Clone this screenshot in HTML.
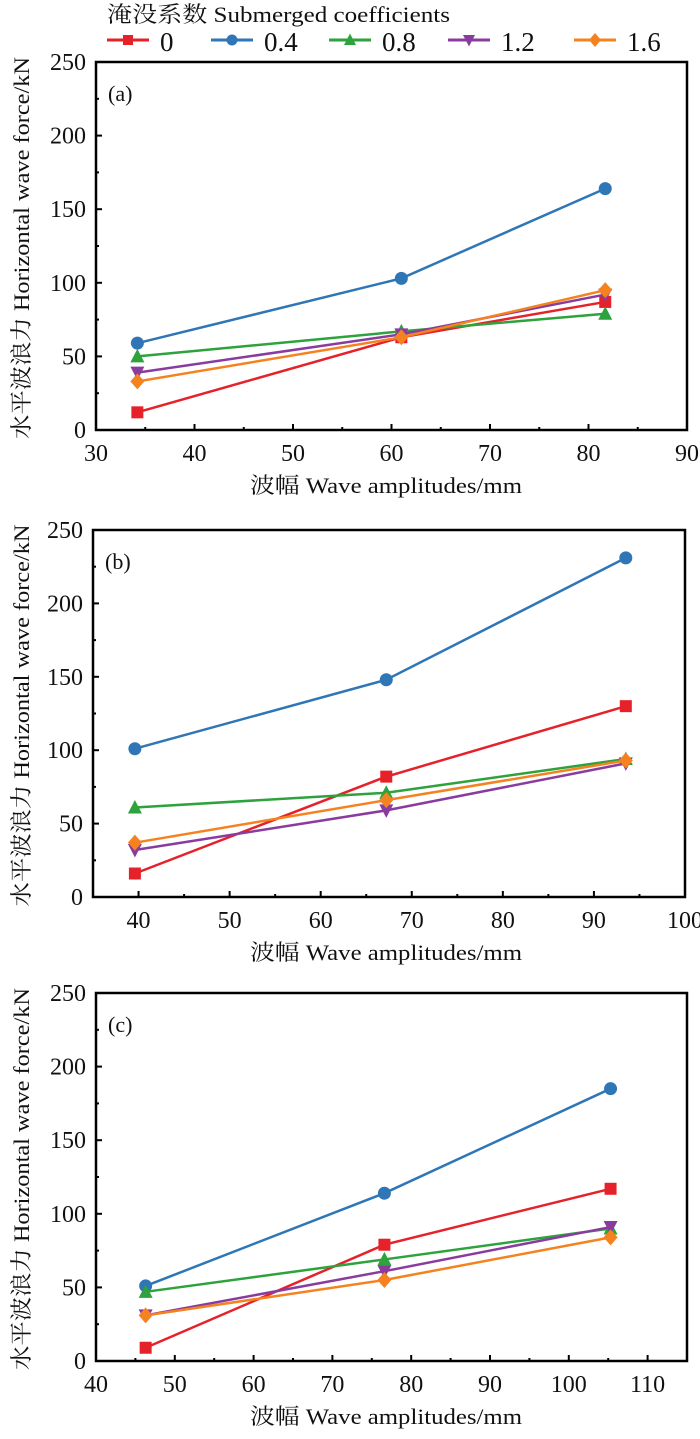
<!DOCTYPE html>
<html><head><meta charset="utf-8"><style>
body{margin:0;background:#fff}
svg text{font-family:"Liberation Serif","Noto Serif CJK SC",serif;fill:#111}
</style></head><body>
<svg id="c" width="700" height="1434" xmlns="http://www.w3.org/2000/svg"></svg>
<script>
const seriesNames=['0','0.4','0.8','1.2','1.6'];
const colors=['#e52229','#2f76b6','#2ea23c','#8a3c9e','#f5821f'];
const markers=['square','circle','triangle','tridown','diamond'];
const xA=[34.2,61,81.7];
const xB=[39.6,67.2,93.5];
const xC=[46.3,76.6,105.3];
const aS0=[12,63,87],aS1=[59,103,164],aS2=[50,67,79],aS3=[39,65,92],aS4=[33,63,95];
const bS0=[16,82,130],bS1=[101,148,231],bS2=[61,71,94],bS3=[32,59,91],bS4=[37,66,93];
const cS0=[9,79,117],cS1=[51,114,185],cS2=[47,69,90],cS3=[31,61,91],cS4=[31,55,84];
const yTicks=[0,50,100,150,200,250];
const xTicksA=[30,40,50,60,70,80,90];
const xTicksB=[40,50,60,70,80,90,100];
const xTicksC=[40,50,60,70,80,90,100,110];
const panels=[
 {id:'a',label:'(a)',x:xA,s:[aS0,aS1,aS2,aS3,aS4],xt:xTicksA,xmin:30,xmax:90,L:96,R:687,T:62,B:430,tt:493},
 {id:'b',label:'(b)',x:xB,s:[bS0,bS1,bS2,bS3,bS4],xt:xTicksB,xmin:35,xmax:100,L:93,R:685,T:530,B:897,tt:960},
 {id:'c',label:'(c)',x:xC,s:[cS0,cS1,cS2,cS3,cS4],xt:xTicksC,xmin:40,xmax:115,L:96,R:687,T:993,B:1361,tt:1424}
];
const NS='http://www.w3.org/2000/svg';
const svg=document.getElementById('c');
function mk(tag,attrs,parent){const e=document.createElementNS(NS,tag);for(const k in attrs)e.setAttribute(k,attrs[k]);(parent||svg).appendChild(e);return e;}
function marker(g,type,cx,cy,col,r){
 let e;
 if(type==='square')e=mk('rect',{x:cx-r,y:cy-r,width:2*r,height:2*r,fill:col},g);
 else if(type==='circle')e=mk('circle',{cx:cx,cy:cy,r:r+0.5,fill:col},g);
 else if(type==='triangle')e=mk('polygon',{points:`${cx},${cy-r-1.5} ${cx-r-1},${cy+r} ${cx+r+1},${cy+r}`,fill:col},g);
 else if(type==='tridown')e=mk('polygon',{points:`${cx},${cy+r+1.5} ${cx-r-1},${cy-r} ${cx+r+1},${cy-r}`,fill:col},g);
 else e=mk('polygon',{points:`${cx},${cy-r-2} ${cx+r+1},${cy} ${cx},${cy+r+2} ${cx-r-1},${cy}`,fill:col},g);
 return e;
}
const lg=mk('g',{});


const lt=mk('text',{x:107,y:22,'font-size':22,textLength:343,lengthAdjust:'spacingAndGlyphs'},lg);lt.textContent='淹没系数 Submerged coefficients';


const lx=[107,211,329,448,574];
seriesNames.forEach((n,i)=>{
 const g=mk('g',{},lg);
 
 
 mk('line',{x1:lx[i],x2:lx[i]+42,y1:40,y2:40,stroke:colors[i],'stroke-width':3},g);
 marker(g,markers[i],lx[i]+21,40,colors[i],5);
 const t=mk('text',{x:lx[i]+53,y:51,'font-size':27},g);t.textContent=n;
});
panels.forEach(p=>{
 const g=mk('g',{});
 
 
 const X=v=>p.L+(v-p.xmin)/(p.xmax-p.xmin)*(p.R-p.L);
 const Y=v=>p.B-v/250*(p.B-p.T);
 yTicks.forEach(v=>{
  mk('line',{x1:p.L,x2:p.L+6,y1:Y(v),y2:Y(v),stroke:'#000','stroke-width':2},g);
  if(v<250)mk('line',{x1:p.L,x2:p.L+3,y1:Y(v+25),y2:Y(v+25),stroke:'#000','stroke-width':2},g);
  const t=mk('text',{x:p.L-10,y:Y(v)+8,'font-size':24,'text-anchor':'end'},g);t.textContent=v;
  
  
 });
 p.xt.forEach((v,i)=>{
  mk('line',{x1:X(v),x2:X(v),y1:p.B,y2:p.B-6,stroke:'#000','stroke-width':2},g);
  if(i<p.xt.length-1)mk('line',{x1:X(v+5),x2:X(v+5),y1:p.B,y2:p.B-3,stroke:'#000','stroke-width':2},g);
  const t=mk('text',{x:X(v),y:p.B+31,'font-size':24,'text-anchor':'middle'},g);t.textContent=v;
  
  
 });
 mk('rect',{x:p.L,y:p.T,width:p.R-p.L,height:p.B-p.T,fill:'none',stroke:'#000','stroke-width':2.5},g);
 const lab=mk('text',{x:p.L+12,y:p.T+39,'font-size':22},g);lab.textContent=p.label;
 
 
 const xt=mk('text',{x:386,y:p.tt,'font-size':22,'text-anchor':'middle',textLength:272,lengthAdjust:'spacingAndGlyphs'},g);xt.textContent='波幅 Wave amplitudes/mm';
 
 
 const cy=(p.T+p.B)/2+2;
 const yt=mk('text',{x:0,y:0,'font-size':22,'text-anchor':'middle',textLength:382,lengthAdjust:'spacingAndGlyphs',transform:`translate(29,${cy}) rotate(-90)`},g);yt.textContent='水平波浪力 Horizontal wave force/kN';
 
 
 p.s.forEach((arr,i)=>{
  const sg=mk('g',{},g);
  
  
  mk('polyline',{points:arr.map((v,j)=>X(p.x[j])+','+Y(v)).join(' '),fill:'none',stroke:colors[i],'stroke-width':2.5},sg);
  arr.forEach((v,j)=>{
   const m=marker(sg,markers[i],X(p.x[j]),Y(v),colors[i],6);
   
   
  });
 });
});
</script>
</body></html>
